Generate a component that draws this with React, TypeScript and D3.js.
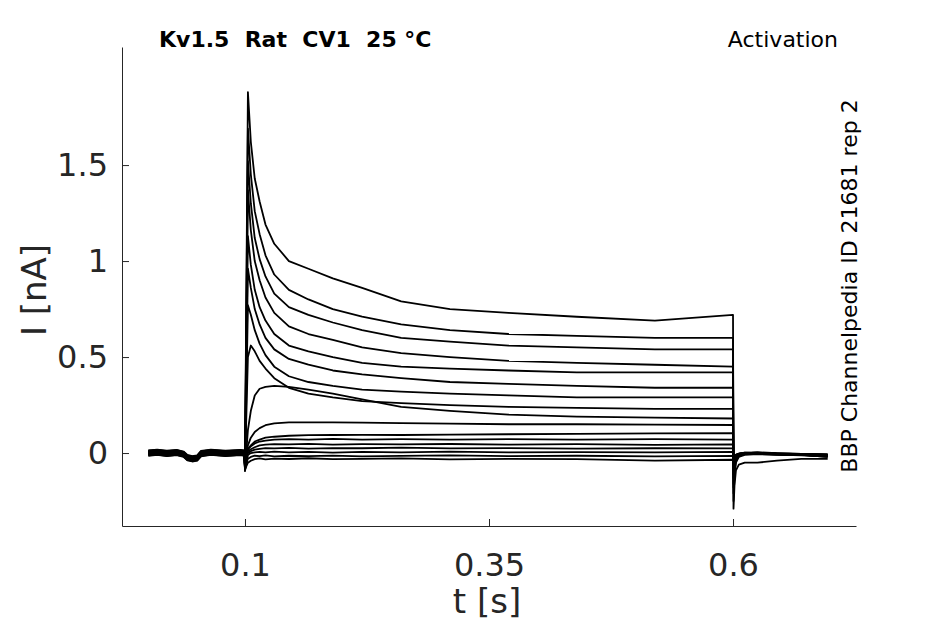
import React, { useEffect, useRef } from 'react';
import * as d3 from 'd3';

const WIDTH = 945;
const HEIGHT = 624;

const title = 'Kv1.5  Rat  CV1  25 °C';
const protocol = 'Activation';
const source = 'BBP Channelpedia ID 21681 rep 2';

const xTicks = [0.1, 0.35, 0.6];
const yTicks = [0, 0.5, 1, 1.5];

// holding period, same for every sweep (s, nA)
const holdingTimes = [0.001, 0.01, 0.02, 0.03, 0.037, 0.041, 0.046, 0.051, 0.055, 0.065, 0.08, 0.095, 0.0995, 0.1];
const holdingShape = [0, 0.004, -0.002, 0.003, -0.006, -0.024, -0.03, -0.026, -0.003, 0.004, -0.002, 0.003, 0, -0.08];
const holdingOffset = [0.008, -0.006, 0.004, -0.01, 0.012, 0, -0.004, 0.006, -0.012, 0.01, -0.002, 0.002, -0.008, 0.014, -0.014, 0.005, -0.005];

// test pulse
const pulseTimes = [0.103, 0.106, 0.11, 0.115, 0.121, 0.13, 0.145, 0.165, 0.19, 0.22, 0.26, 0.31, 0.37, 0.44, 0.52, 0.6];
const pulseCurrents = [
  [1.88, 1.62, 1.43, 1.31, 1.19, 1.09, 1.0, 0.96, 0.91, 0.86, 0.79, 0.75, 0.73, 0.71, 0.69, 0.72],
  [1.69, 1.45, 1.26, 1.14, 1.03, 0.93, 0.85, 0.8, 0.75, 0.71, 0.67, 0.64, 0.62, 0.61, 0.6, 0.6],
  [1.52, 1.3, 1.12, 1.01, 0.92, 0.83, 0.76, 0.72, 0.68, 0.64, 0.6, 0.58, 0.56, 0.55, 0.54, 0.54],
  [1.37, 1.16, 1.0, 0.9, 0.81, 0.73, 0.66, 0.62, 0.59, 0.55, 0.52, 0.5, 0.48, 0.47, 0.46, 0.45],
  [1.13, 0.98, 0.85, 0.76, 0.69, 0.62, 0.56, 0.53, 0.5, 0.47, 0.45, 0.44, 0.43, 0.42, 0.42, 0.42],
  [0.96, 0.86, 0.75, 0.67, 0.6, 0.54, 0.49, 0.46, 0.43, 0.41, 0.39, 0.37, 0.36, 0.35, 0.34, 0.34],
  [0.77, 0.72, 0.64, 0.57, 0.51, 0.45, 0.4, 0.37, 0.35, 0.33, 0.32, 0.31, 0.3, 0.29, 0.29, 0.29],
  [0.5, 0.56, 0.53, 0.48, 0.44, 0.39, 0.34, 0.31, 0.29, 0.27, 0.26, 0.25, 0.24, 0.235, 0.23, 0.23],
  [0.12, 0.22, 0.3, 0.335, 0.345, 0.35, 0.345, 0.33, 0.31, 0.28, 0.24, 0.22, 0.2, 0.19, 0.185, 0.18],
  [0.04, 0.08, 0.11, 0.13, 0.145, 0.155, 0.16, 0.16, 0.16, 0.158, 0.156, 0.153, 0.15, 0.15, 0.148, 0.146],
  [0.02, 0.04, 0.06, 0.07, 0.08, 0.085, 0.09, 0.093, 0.094, 0.095, 0.094, 0.096, 0.098, 0.1, 0.102, 0.104],
  [0.02, 0.035, 0.05, 0.06, 0.065, 0.07, 0.072, 0.07, 0.074, 0.07, 0.072, 0.07, 0.073, 0.07, 0.072, 0.07],
  [0.01, 0.02, 0.03, 0.04, 0.044, 0.046, 0.045, 0.048, 0.044, 0.046, 0.045, 0.047, 0.044, 0.046, 0.043, 0.045],
  [0, 0.01, 0.018, 0.022, 0.026, 0.024, 0.027, 0.023, 0.026, 0.025, 0.028, 0.024, 0.026, 0.023, 0.025, 0.024],
  [-0.01, 0, 0.004, 0.006, 0.003, 0.007, 0.004, 0.006, 0.002, 0.006, 0.004, 0.007, 0.003, 0.005, 0.004, 0.006],
  [-0.03, -0.02, -0.014, -0.016, -0.012, -0.017, -0.014, -0.016, -0.013, -0.017, -0.015, -0.012, -0.016, -0.014, -0.017, -0.015],
  [-0.05, -0.04, -0.032, -0.028, -0.033, -0.029, -0.031, -0.027, -0.032, -0.03, -0.028, -0.033, -0.03, -0.032, -0.04, -0.035],
];

// tail after the pulse
const tailTimes = [0.6005, 0.6015, 0.603, 0.606, 0.612, 0.625, 0.645, 0.67, 0.697];
const tailCurrents = [
  [-0.29, -0.17, -0.09, -0.06, -0.05, -0.05, -0.04, -0.03, -0.03],
  [-0.25, -0.12, -0.05, -0.02, -0.01, -0.005, -0.01, -0.01, -0.02],
  [-0.21, -0.1, -0.04, -0.015, -0.005, 0, -0.005, -0.01, -0.015],
  [-0.18, -0.08, -0.03, -0.01, 0, 0.002, -0.004, -0.008, -0.012],
  [-0.16, -0.07, -0.03, -0.01, -0.004, 0, -0.006, -0.01, -0.02],
  [-0.13, -0.06, -0.025, -0.008, 0, -0.002, -0.008, -0.012, -0.018],
  [-0.11, -0.05, -0.02, -0.006, 0.002, 0, -0.004, -0.006, -0.01],
  [-0.09, -0.04, -0.02, -0.008, -0.004, -0.004, -0.008, -0.01, -0.014],
  [-0.08, -0.035, -0.015, -0.006, 0, 0, -0.004, -0.008, -0.01],
  [-0.07, -0.03, -0.015, -0.008, -0.004, -0.002, -0.006, -0.01, -0.016],
  [-0.06, -0.025, -0.012, -0.004, 0, 0.002, -0.002, -0.006, -0.01],
  [-0.05, -0.02, -0.01, -0.004, 0, 0, -0.004, -0.006, -0.01],
  [-0.05, -0.022, -0.01, -0.002, 0.002, 0.004, 0, -0.004, -0.008],
  [-0.045, -0.02, -0.008, -0.004, -0.002, 0, -0.006, -0.008, -0.012],
  [-0.045, -0.018, -0.01, -0.006, 0, 0.002, -0.002, -0.004, -0.006],
  [-0.04, -0.02, -0.012, -0.006, -0.004, -0.002, -0.006, -0.01, -0.014],
  [-0.04, -0.018, -0.01, -0.004, 0, 0, -0.004, -0.008, -0.01],
];

const margin = { left: 122, right: 89, top: 47, bottom: 98 };
const axisColor = '#262626';
const font = '"DejaVu Sans", sans-serif';

const App: React.FC = () => {
  const xAxisRef = useRef<SVGGElement>(null);
  const yAxisRef = useRef<SVGGElement>(null);

  const x = d3.scaleLinear().domain([-0.026, 0.726]).range([margin.left, WIDTH - margin.right]);
  const y = d3.scaleLinear().domain([-0.38, 2.115]).range([HEIGHT - margin.bottom, margin.top]);

  const traces = pulseCurrents.map((row, i) => [
    ...holdingTimes.map((t, j) => [t, holdingShape[j] + holdingOffset[i]] as [number, number]),
    ...pulseTimes.map((t, j) => [t, row[j]] as [number, number]),
    ...tailTimes.map((t, j) => [t, tailCurrents[i][j]] as [number, number]),
  ]);

  const line = d3.line<[number, number]>()
    .x(d => x(d[0]))
    .y(d => y(d[1]));

  useEffect(() => {
    if (!xAxisRef.current || !yAxisRef.current) return;

    const gx = d3.select(xAxisRef.current);
    gx.selectAll('*').remove();
    gx.call(
      d3.axisBottom(x).tickValues(xTicks).tickFormat(d => String(d)).tickSizeInner(-7).tickSizeOuter(0).tickPadding(27)
    );

    const gy = d3.select(yAxisRef.current);
    gy.selectAll('*').remove();
    gy.call(
      d3.axisLeft(y).tickValues(yTicks).tickFormat(d => String(d)).tickSizeInner(-7).tickSizeOuter(0).tickPadding(14)
    );

    [gx, gy].forEach(g => {
      g.attr('font-family', font).attr('font-size', 32);
      g.select('.domain').attr('stroke', axisColor).attr('stroke-width', 1);
      g.selectAll('.tick line').attr('stroke', axisColor).attr('stroke-width', 1);
      g.selectAll('.tick text').attr('fill', axisColor);
    });
  }, []);

  return (
    <div style={{ position: 'absolute', left: 0, top: 0 }}>
      <svg width={WIDTH} height={HEIGHT} style={{ display: 'block', background: '#fff' }}>
        <g>
          {traces.map((tr, i) => (
            <path key={i} d={line(tr) || ''} fill="none" stroke="#000" strokeWidth={1.8} strokeLinejoin="round" />
          ))}
        </g>
        <g ref={xAxisRef} transform={`translate(0, ${HEIGHT - margin.bottom})`} />
        <g ref={yAxisRef} transform={`translate(${margin.left}, 0)`} />

        <text x={487} y={613} textAnchor="middle" fontFamily={font} fontSize={34} fill={axisColor}>t [s]</text>
        <text transform="translate(46, 290) rotate(-90)" textAnchor="middle" fontFamily={font} fontSize={34} fill={axisColor}>I [nA]</text>

        <text x={159} y={47} fontFamily={font} fontSize={22} fontWeight="bold" fill="#000" style={{ whiteSpace: 'pre' }}>{title}</text>
        <text x={838} y={47} textAnchor="end" fontFamily={font} fontSize={22} fill="#000">{protocol}</text>
        <text transform="translate(857, 286) rotate(-90)" textAnchor="middle" fontFamily={font} fontSize={22} fill="#000">{source}</text>
      </svg>
    </div>
  );
};

export default App;
